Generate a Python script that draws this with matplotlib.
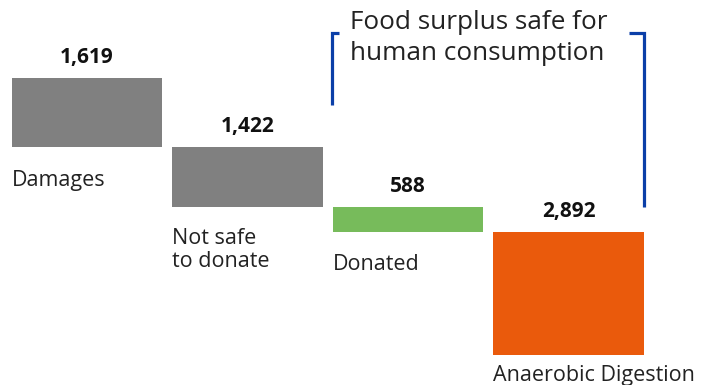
import matplotlib.pyplot as plt
import numpy as np

categories = ["Damages", "Not safe\nto donate", "Donated", "Anaerobic Digestion"]
values = [1619, 1422, 588, 2892]
value_labels = ["1,619", "1,422", "588", "2,892"]
colors = ["#808080", "#808080", "#77BB5B", "#EA5A0C"]
bracket_text = "Food surplus safe for\nhuman consumption"

plt.rcParams['font.family'] = ['Open Sans', 'DejaVu Sans']

total = sum(values)
tops = total - np.concatenate([[0], np.cumsum(values)[:-1]])
bottoms = tops - np.array(values)
x = np.arange(len(values))
w = 0.935

fig = plt.figure(figsize=(7.13, 3.85), dpi=100)
ax = fig.add_axes([0, 0, 1, 1])
ax.bar(x, values, bottom=bottoms, width=w, color=colors)

# value labels above, names below
for i in range(len(values)):
    ax.annotate(value_labels[i], (x[i], tops[i]), xytext=(0, 7), textcoords="offset points",
                ha="center", va="bottom", fontsize=15, fontweight="bold", color="#111111")
label_gap = [17, 15, 16, 7]
for i in range(len(values)):
    ax.annotate(categories[i], (x[i] - w / 2, bottoms[i]), xytext=(0, -label_gap[i]),
                textcoords="offset points", ha="left", va="top", fontsize=15.5,
                color="#222222", linespacing=1.1)

# bracket over the donatable part
bl = x[2] - w / 2 - 0.005
br = x[3] + w / 2
btop = total + 1060
ax.plot([bl + 0.04, bl, bl, ], [btop, btop, btop - 1700], color="#0B3FA8", lw=2.3,
        solid_capstyle="butt", solid_joinstyle="miter")
ax.plot([br - 0.09, br, br], [btop, btop, tops[2]], color="#0B3FA8", lw=2.3,
        solid_capstyle="butt", solid_joinstyle="miter")
ax.text(bl + 0.11, btop + 540, bracket_text, ha="left", va="top", fontsize=18.8,
        color="#222222", linespacing=1.3)

ax.set_xlim(-0.542, 3.90)
ax.set_ylim(-706, 8357)
ax.axis("off")

fig.savefig("out.png", dpi=100)
